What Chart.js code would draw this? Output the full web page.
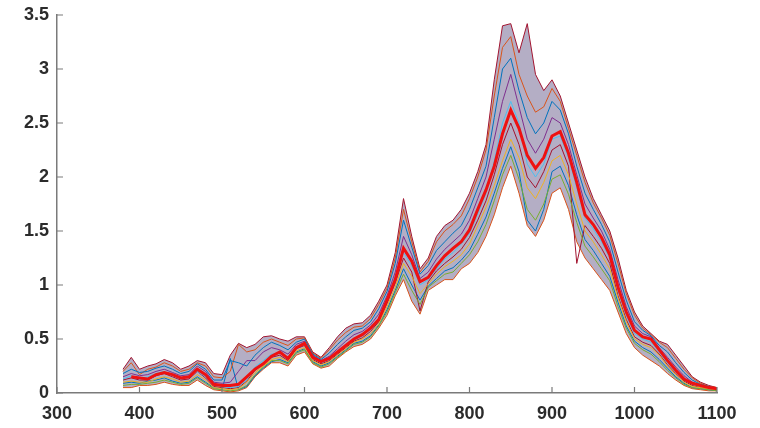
<!DOCTYPE html>
<html>
<head>
<meta charset="utf-8">
<script src="https://cdn.jsdelivr.net/npm/chart.js@4/dist/chart.umd.min.js"></script>
<style>
    html, body { margin: 0; padding: 0; background: #fff; }
    #wrap { width: 760px; height: 428px; }
</style>
</head>
<body>
<div id="wrap"><canvas id="espectros"></canvas></div>
<script>
const longitudes = [380, 390, 400, 410, 420, 430, 440, 450, 460, 470, 480, 490, 500, 510, 520, 530, 540, 550, 560, 570,
    580, 590, 600, 610, 620, 630, 640, 650, 660, 670, 680, 690, 700, 710, 720, 730, 740, 750, 760, 770,
    780, 790, 800, 810, 820, 830, 840, 850, 860, 870, 880, 890, 900, 910, 920, 930, 940, 950, 960, 970,
    980, 990, 1000, 1010, 1020, 1030, 1040, 1050, 1060, 1070, 1080, 1090, 1100];

const xTicks = [300, 400, 500, 600, 700, 800, 900, 1000, 1100];
const yTicks = [0, 0.5, 1, 1.5, 2, 2.5, 3, 3.5];

// envolventes del haz de espectros
const superior = [0.22, 0.33, 0.22, 0.25, 0.27, 0.31, 0.28, 0.22, 0.25, 0.30, 0.28, 0.18, 0.17, 0.35, 0.46, 0.42, 0.45, 0.52, 0.53, 0.50,
    0.48, 0.52, 0.52, 0.38, 0.33, 0.42, 0.52, 0.60, 0.64, 0.65, 0.72, 0.85, 1.00, 1.30, 1.80, 1.45, 1.15, 1.25, 1.45, 1.55,
    1.60, 1.70, 1.85, 2.05, 2.30, 2.90, 3.40, 3.42, 3.15, 3.42, 2.95, 2.80, 2.90, 2.75, 2.50, 2.25, 2.00, 1.80, 1.65, 1.50,
    1.25, 0.95, 0.75, 0.62, 0.55, 0.48, 0.45, 0.35, 0.25, 0.15, 0.10, 0.07, 0.05];
const inferior = [0.05, 0.05, 0.07, 0.07, 0.08, 0.10, 0.08, 0.07, 0.07, 0.12, 0.07, 0.03, 0.02, 0.01, 0.02, 0.05, 0.15, 0.22, 0.28, 0.28,
    0.25, 0.35, 0.38, 0.27, 0.23, 0.25, 0.32, 0.38, 0.43, 0.45, 0.50, 0.60, 0.72, 0.90, 1.05, 0.85, 0.73, 0.95, 1.00, 1.05,
    1.05, 1.15, 1.20, 1.30, 1.45, 1.65, 1.90, 2.10, 1.85, 1.55, 1.45, 1.60, 1.85, 1.90, 1.70, 1.40, 1.25, 1.15, 1.05, 0.95,
    0.75, 0.55, 0.42, 0.35, 0.30, 0.25, 0.18, 0.12, 0.07, 0.04, 0.03, 0.02, 0.02];

// algunos espectros individuales
const espectroA = [0.18, 0.22, 0.19, 0.20, 0.23, 0.25, 0.22, 0.18, 0.20, 0.27, 0.22, 0.12, 0.12, 0.30, 0.28, 0.25, 0.35, 0.42, 0.47, 0.44,
    0.40, 0.47, 0.50, 0.36, 0.31, 0.37, 0.45, 0.52, 0.58, 0.60, 0.66, 0.78, 0.94, 1.20, 1.60, 1.35, 1.10, 1.18, 1.32, 1.40,
    1.48, 1.55, 1.70, 1.90, 2.10, 2.55, 3.00, 3.10, 2.80, 2.55, 2.40, 2.50, 2.70, 2.62, 2.40, 2.10, 1.85, 1.70, 1.56, 1.40,
    1.12, 0.86, 0.66, 0.58, 0.53, 0.44, 0.38, 0.28, 0.19, 0.12, 0.08, 0.06, 0.04];
const espectroB = [0.10, 0.11, 0.10, 0.10, 0.13, 0.15, 0.13, 0.10, 0.11, 0.17, 0.12, 0.05, 0.04, 0.03, 0.04, 0.10, 0.19, 0.25, 0.31, 0.33,
    0.29, 0.39, 0.42, 0.30, 0.26, 0.29, 0.35, 0.41, 0.47, 0.50, 0.55, 0.64, 0.80, 0.98, 1.20, 1.08, 0.92, 1.01, 1.10, 1.17,
    1.22, 1.28, 1.38, 1.55, 1.72, 1.92, 2.15, 2.35, 2.18, 1.90, 1.80, 1.95, 2.15, 2.20, 2.02, 1.75, 1.50, 1.40, 1.28, 1.15,
    0.88, 0.66, 0.50, 0.45, 0.42, 0.35, 0.25, 0.17, 0.10, 0.06, 0.05, 0.04, 0.03];
const espectroC = [0.15, 0.18, 0.16, 0.17, 0.20, 0.22, 0.19, 0.16, 0.17, 0.25, 0.20, 0.10, 0.09, 0.10, 0.20, 0.30, 0.30, 0.38, 0.42, 0.40,
    0.36, 0.45, 0.48, 0.35, 0.30, 0.34, 0.41, 0.48, 0.54, 0.57, 0.63, 0.73, 0.90, 1.12, 1.45, 1.28, 1.06, 1.12, 1.24, 1.33,
    1.40, 1.47, 1.60, 1.80, 2.00, 2.35, 2.70, 2.95, 2.65, 2.35, 2.22, 2.35, 2.55, 2.50, 2.30, 2.02, 1.75, 1.62, 1.50, 1.33,
    1.05, 0.80, 0.62, 0.55, 0.52, 0.42, 0.33, 0.24, 0.16, 0.10, 0.07, 0.05, 0.04];
const espectroD = [0.07, 0.08, 0.08, 0.09, 0.10, 0.12, 0.10, 0.08, 0.09, 0.14, 0.09, 0.04, 0.03, 0.02, 0.03, 0.07, 0.17, 0.24, 0.30, 0.30,
    0.27, 0.37, 0.40, 0.28, 0.24, 0.27, 0.33, 0.39, 0.45, 0.47, 0.52, 0.62, 0.75, 0.93, 1.10, 0.95, 0.82, 0.98, 1.04, 1.10,
    1.12, 1.20, 1.28, 1.40, 1.56, 1.78, 2.02, 2.20, 1.98, 1.70, 1.60, 1.75, 1.98, 2.02, 1.84, 1.58, 1.36, 1.26, 1.15, 1.04,
    0.80, 0.60, 0.46, 0.40, 0.36, 0.29, 0.21, 0.14, 0.08, 0.05, 0.04, 0.03, 0.02];
const espectroE = [0.13, 0.16, 0.13, 0.15, 0.18, 0.20, 0.16, 0.13, 0.16, 0.20, 0.15, 0.08, 0.06, 0.05, 0.06, 0.12, 0.24, 0.30, 0.36, 0.37,
    0.31, 0.43, 0.45, 0.32, 0.28, 0.31, 0.37, 0.43, 0.49, 0.53, 0.59, 0.69, 0.85, 1.08, 1.30, 1.18, 1.00, 1.05, 1.15, 1.24,
    1.30, 1.38, 1.48, 1.66, 1.85, 2.15, 2.50, 2.70, 2.50, 2.12, 2.00, 2.12, 2.35, 2.38, 2.18, 1.90, 1.62, 1.52, 1.40, 1.25,
    0.95, 0.72, 0.55, 0.50, 0.47, 0.38, 0.28, 0.20, 0.12, 0.08, 0.06, 0.05, 0.03];
const espectroF = [0.20, 0.28, 0.17, 0.22, 0.24, 0.28, 0.25, 0.20, 0.22, 0.28, 0.25, 0.15, 0.14, 0.20, 0.45, 0.38, 0.40, 0.47, 0.50, 0.47,
    0.44, 0.50, 0.51, 0.37, 0.32, 0.40, 0.49, 0.56, 0.61, 0.62, 0.69, 0.82, 0.97, 1.25, 1.70, 1.40, 1.12, 1.22, 1.40, 1.50,
    1.56, 1.64, 1.80, 2.00, 2.25, 2.75, 3.20, 3.30, 2.95, 2.75, 2.60, 2.65, 2.82, 2.70, 2.45, 2.20, 1.95, 1.76, 1.62, 1.46,
    1.20, 0.92, 0.72, 0.60, 0.54, 0.47, 0.42, 0.32, 0.22, 0.14, 0.09, 0.06, 0.05];
const espectroG = [0.12, 0.14, 0.12, 0.12, 0.16, 0.18, 0.15, 0.12, 0.13, 0.20, 0.14, 0.06, 0.05, 0.04, 0.05, 0.11, 0.21, 0.28, 0.33, 0.35,
    0.30, 0.41, 0.44, 0.31, 0.27, 0.30, 0.36, 0.42, 0.48, 0.51, 0.57, 0.66, 0.83, 1.02, 1.25, 1.12, 0.76, 1.03, 1.13, 1.20,
    1.26, 1.33, 1.44, 1.60, 1.78, 2.02, 2.30, 2.50, 2.30, 2.00, 1.90, 2.05, 2.25, 2.30, 2.10, 1.20, 1.55, 1.45, 1.34, 1.20,
    0.90, 0.68, 0.52, 0.47, 0.44, 0.36, 0.26, 0.18, 0.11, 0.07, 0.05, 0.04, 0.03];
const espectroH = [0.09, 0.10, 0.09, 0.11, 0.12, 0.14, 0.11, 0.09, 0.10, 0.15, 0.10, 0.05, 0.03, 0.32, 0.03, 0.06, 0.16, 0.23, 0.29, 0.31,
    0.28, 0.38, 0.41, 0.29, 0.25, 0.28, 0.34, 0.40, 0.46, 0.48, 0.53, 0.63, 0.77, 0.95, 1.15, 1.00, 0.86, 0.99, 1.06, 1.13,
    1.16, 1.23, 1.32, 1.47, 1.63, 1.85, 2.08, 2.28, 2.05, 1.60, 1.50, 1.70, 2.05, 2.10, 1.92, 1.65, 1.42, 1.32, 1.20, 1.08,
    0.84, 0.62, 0.48, 0.42, 0.38, 0.31, 0.23, 0.15, 0.09, 0.05, 0.04, 0.03, 0.02];

// espectro medio (rojo)
const media = [null, 0.15, 0.14, 0.13, 0.17, 0.19, 0.17, 0.14, 0.15, 0.22, 0.17, 0.08, 0.07, 0.07, 0.08, 0.15, 0.22, 0.27, 0.34, 0.38,
    0.32, 0.42, 0.46, 0.33, 0.29, 0.32, 0.38, 0.44, 0.50, 0.54, 0.60, 0.68, 0.86, 1.05, 1.34, 1.22, 1.03, 1.07, 1.18, 1.27,
    1.34, 1.40, 1.51, 1.70, 1.88, 2.10, 2.40, 2.62, 2.45, 2.20, 2.08, 2.18, 2.38, 2.42, 2.22, 1.95, 1.65, 1.56, 1.44, 1.28,
    0.98, 0.75, 0.58, 0.52, 0.50, 0.40, 0.30, 0.21, 0.13, 0.09, 0.07, 0.05, 0.04];

const puntos = (valores) => longitudes.map((x, i) => ({ x, y: valores[i] }));

const linea = (valores, color, orden) => ({
    data: puntos(valores),
    borderColor: color,
    borderWidth: 1,
    pointRadius: 0,
    tension: 0,
    fill: false,
    order: orden
});

// marcas de eje hacia dentro, como en MATLAB
const marcasDentro = {
    id: 'marcasDentro',
    afterDraw(chart) {
        const { ctx, scales: { x, y } } = chart;
        ctx.save();
        ctx.strokeStyle = '#7a7a7a';
        ctx.lineWidth = 1.2;
        ctx.beginPath();
        xTicks.forEach((v) => {
            const px = x.getPixelForValue(v);
            ctx.moveTo(px, y.bottom);
            ctx.lineTo(px, y.bottom - 6);
        });
        yTicks.forEach((v) => {
            const py = y.getPixelForValue(v);
            ctx.moveTo(x.left, py);
            ctx.lineTo(x.left + 6, py);
        });
        ctx.stroke();
        ctx.restore();
    }
};

const ctx = document.getElementById('espectros').getContext('2d');

const data = {
    datasets: [
        {
            data: puntos(media),
            borderColor: '#ee1111',
            borderWidth: 3,
            pointRadius: 0,
            tension: 0,
            fill: false,
            order: 0
        },
        linea(espectroA, '#0072BD', 2),
        linea(espectroB, '#EDB120', 3),
        linea(espectroC, '#7E2F8E', 4),
        linea(espectroD, '#77AC30', 5),
        linea(espectroE, '#4DBEEE', 6),
        linea(espectroF, '#D95319', 7),
        linea(espectroG, '#A2142F', 7),
        linea(espectroH, '#0072BD', 7),
        linea(inferior, '#D95319', 8),
        {
            ...linea(superior, '#A2142F', 9),
            fill: 9,
            backgroundColor: 'rgba(118, 108, 150, 0.55)'
        }
    ]
};

const fuenteTicks = { family: 'Liberation Sans, Arial, sans-serif', size: 18, weight: 'bold' };

const config = {
    type: 'line',
    data,
    options: {
        responsive: true,
        maintainAspectRatio: false,
        animation: false,
        layout: { padding: { top: 15, right: 43, left: 0, bottom: 0 } },
        plugins: {
            legend: { display: false },
            tooltip: { enabled: false }
        },
        scales: {
            x: {
                type: 'linear',
                min: 300,
                max: 1100,
                afterBuildTicks: (scale) => { scale.ticks = xTicks.map((v) => ({ value: v })); },
                afterFit: (scale) => { scale.height = 35; },
                border: { display: true, color: '#7a7a7a', width: 1.5 },
                grid: { display: false },
                ticks: { color: '#2b2b2b', font: fuenteTicks, padding: 2, maxRotation: 0, callback: (v) => String(v) }
            },
            y: {
                min: 0,
                max: 3.5,
                afterBuildTicks: (scale) => { scale.ticks = yTicks.map((v) => ({ value: v })); },
                afterFit: (scale) => { scale.width = 57; },
                border: { display: true, color: '#7a7a7a', width: 1.5 },
                grid: { display: false },
                ticks: { color: '#2b2b2b', font: fuenteTicks, padding: 0, callback: (v) => String(v) }
            }
        }
    },
    plugins: [marcasDentro]
};

new Chart(ctx, config);
</script>
</body>
</html>
